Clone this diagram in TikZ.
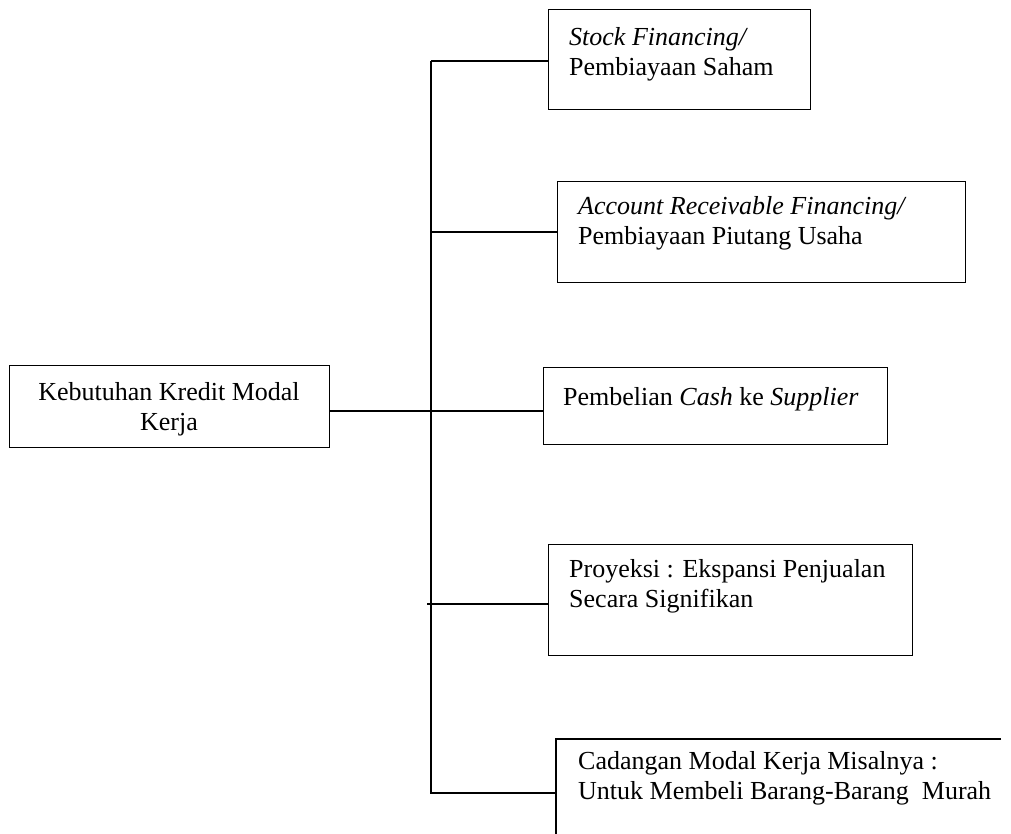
\documentclass[tikz,border=0pt]{standalone}
\usepackage{fontspec}
\setmainfont{Liberation Serif}
\usetikzlibrary{positioning,calc}

\tikzset{
    kotak/.style={draw, line width=1.4pt, anchor=north west, inner sep=0pt},
    teks/.style={anchor=north west, inner sep=0pt, align=left, font=\fontsize{26}{30}\selectfont},
    garis/.style={line width=1.4pt},
}

\begin{document}
\begin{tikzpicture}[x=1pt, y=-1pt]
    \useasboundingbox (0,0) rectangle (1011,834);
    % kotak kiri
    \node [kotak, minimum width=320pt, minimum height=82pt] (kebutuhan) at (9,365) {};
    \node [teks, anchor=north, align=center] (kebutuhanteks) at (169,379) {\strut Kebutuhan Kredit Modal\\Kerja};
    % kotak kanan
    \node [kotak, minimum width=262pt, minimum height=100pt] (stock) at (548,9) {};
    \node [teks] (stockteks) at (569,24) {\strut\textit{Stock Financing/}\\Pembiayaan Saham};
    \node [kotak, minimum width=408pt, minimum height=101pt] (piutang) at (557,181) {};
    \node [teks] (piutangteks) at (578,193) {\strut\textit{Account Receivable Financing/}\\Pembiayaan Piutang Usaha};
    \node [kotak, minimum width=344pt, minimum height=77pt] (cash) at (543,367) {};
    \node [teks, anchor=base west] (cashteks) at (563,405) {Pembelian \textit{Cash} ke \textit{Supplier}};
    \node [kotak, minimum width=364pt, minimum height=111pt] (proyeksi) at (548,544) {};
    \node [teks] (proyeksiteks) at (569,556) {\strut Proyeksi : Ekspansi Penjualan\\Secara Signifikan};
    \draw [line width=1.4pt] (1001,739) -- (556,739) -- (556,834); % kotak terpotong
    \node [teks] (cadanganteks) at (578,748) {\strut Cadangan Modal Kerja Misalnya :\\Untuk Membeli Barang-Barang~ Murah};
    % titik cabang
    \coordinate (atas) at (431,61);
    \coordinate (tengah) at (431,411);
    \coordinate (cabang) at (427,604);
    \coordinate (bawah) at (431,793);
    \coordinate (cadangan) at (556,793);
    % garis penghubung
    \draw [garis] (atas) -- (bawah) -- (cadangan);
    \draw [garis] (atas) -- (atas -| stock.west);
    \draw [garis] (piutang.west -| atas) -- (piutang.west);
    \draw [garis] (kebutuhan.east |- tengah) -- (tengah);
    \draw [garis] ([xshift=-13pt]tengah) -- (tengah -| cash.west);
    \draw [garis] (cabang) -- (cabang -| proyeksi.west);
\end{tikzpicture}
\end{document}
